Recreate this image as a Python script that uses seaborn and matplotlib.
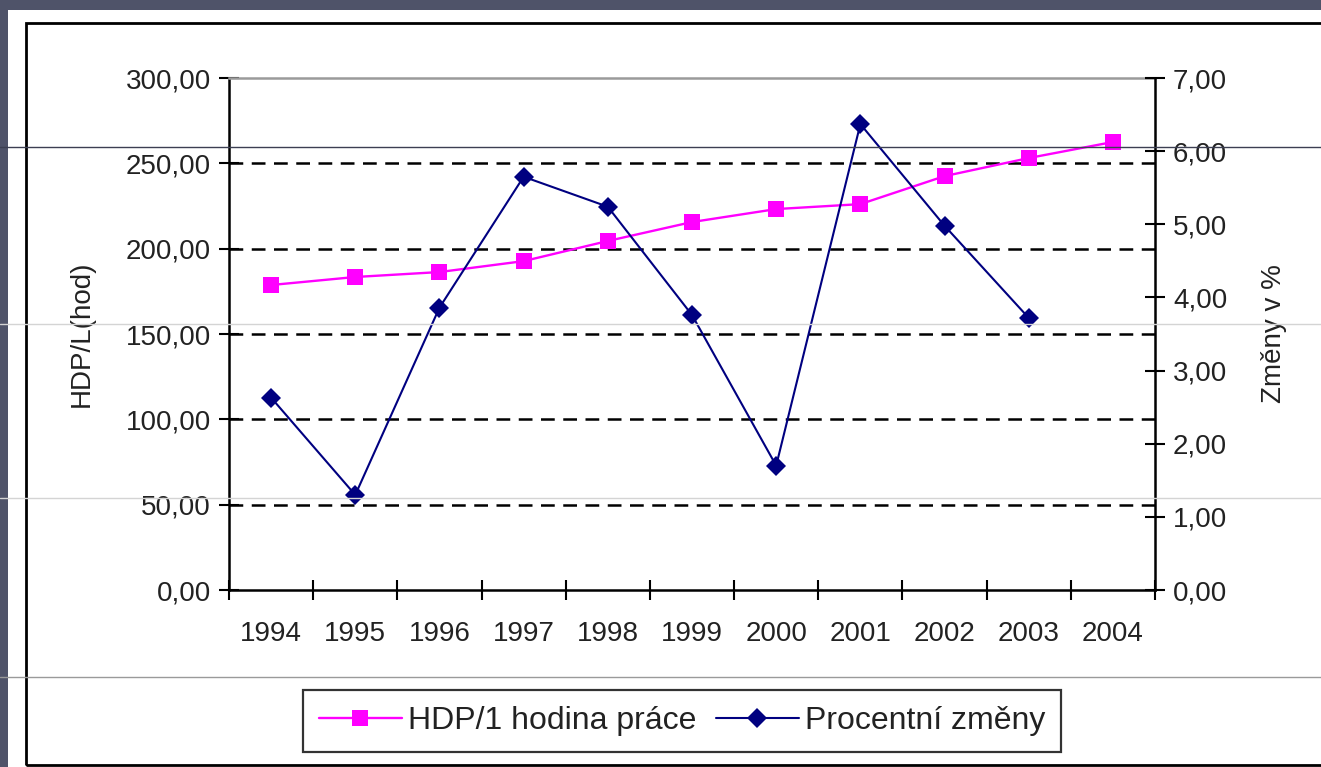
"""HDP na hodinu práce a procentní změny, 1994-2004"""
import pandas as pd
import matplotlib.pyplot as plt
import seaborn as sns
from matplotlib.patches import Rectangle
from matplotlib.lines import Line2D

roky = [1994, 1995, 1996, 1997, 1998, 1999, 2000, 2001, 2002, 2003, 2004]
hdp_hodina = [178.7, 183.4, 186.3, 192.7, 204.5, 215.6, 223.2, 226.1, 242.5, 253.1, 262.5]
roky_zmeny = [1994, 1995, 1996, 1997, 1998, 1999, 2000, 2001, 2002, 2003]
procentni_zmeny = [2.63, 1.30, 3.86, 5.65, 5.24, 3.76, 1.70, 6.37, 4.98, 3.72]
levy_ticks = [0, 50, 100, 150, 200, 250, 300]
pravy_ticks = [0, 1, 2, 3, 4, 5, 6, 7]

W, H = 1321, 767
sns.set_style("white")
plt.rcParams['font.family'] = ['Liberation Sans', 'DejaVu Sans']
text_color = '#222222'
fs = 20

fig = plt.figure(figsize=(W / 100, H / 100), dpi=100, facecolor='#4f5369')
# white slide panel + black chart frame
fig.patches.append(Rectangle((8 / W, 0), 1, 1 - 10 / H, transform=fig.transFigure,
                             facecolor='white', edgecolor='none', zorder=0))
fig.patches.append(Rectangle((26 / W, 1 - 765 / H), 1, (765 - 23) / H, transform=fig.transFigure,
                             facecolor='none', edgecolor='black', lw=2, zorder=1))

ax = fig.add_axes([229 / W, 1 - 590 / H, (1155 - 229) / W, (590 - 78) / H])
ax.set_facecolor('none')
ax.set_zorder(3)
ax2 = ax.twinx()
ax2.set_zorder(4)
ax2.set_facecolor('none')

df1 = pd.DataFrame({'rok': roky, 'hdp': hdp_hodina})
df2 = pd.DataFrame({'rok': roky_zmeny, 'zmena': procentni_zmeny})

sns.lineplot(data=df1, x='rok', y='hdp', ax=ax, color='#ff00ff', lw=1.7,
             marker='s', markersize=11, markeredgewidth=0, zorder=4)
sns.lineplot(data=df2, x='rok', y='zmena', ax=ax2, color='#000080', lw=1.5,
             marker='D', markersize=10, markeredgewidth=0, zorder=4)

ax.set_xlim(1993.5, 2004.5)
ax.set_ylim(0, 300)
ax2.set_ylim(0, 7)

# dashed gridlines at left-axis values
for v in levy_ticks[1:-1]:
    ax.axhline(v, color='black', lw=1.8, ls=(0, (5.5, 3.4)), zorder=2)

ax.set_yticks(levy_ticks)
ax.set_yticklabels([f'{v:.2f}'.replace('.', ',') for v in levy_ticks])
ax2.set_yticks(pravy_ticks)
ax2.set_yticklabels([f'{v:.2f}'.replace('.', ',') for v in pravy_ticks])
ax.set_xticks(roky)
ax.set_xticklabels([str(r) for r in roky])
ax.set_xticks([r - 0.5 for r in roky] + [roky[-1] + 0.5], minor=True)

ax.tick_params(axis='x', which='major', bottom=True, length=0, pad=22,
               labelsize=fs, labelcolor=text_color)
ax.tick_params(axis='x', which='minor', bottom=True, direction='inout',
               length=14, width=1.5, color='black')
ax.tick_params(axis='y', left=True, direction='inout', length=14, width=1.5, color='black',
               pad=6, labelsize=fs, labelcolor=text_color)
ax2.tick_params(axis='y', right=True, direction='inout', length=14, width=1.5, color='black',
                pad=6, labelsize=fs, labelcolor=text_color)

for a in (ax, ax2):
    for s in a.spines.values():
        s.set_visible(False)
ax.spines['left'].set_visible(True)
ax.spines['bottom'].set_visible(True)
ax2.spines['right'].set_visible(True)
for s in (ax.spines['left'], ax.spines['bottom'], ax2.spines['right']):
    s.set_color('black')
    s.set_linewidth(1.8)
ax.spines['top'].set_visible(True)
ax.spines['top'].set_color('#9a9a9a')
ax.spines['top'].set_linewidth(1.8)

ax.set_xlabel('')
ax.set_ylabel('HDP/L(hod)', fontsize=fs, color=text_color, labelpad=22)
ax2.set_ylabel('Změny v %', fontsize=fs, color=text_color, labelpad=24)

if ax.get_legend():
    ax.get_legend().remove()
handles = [Line2D([], [], color='#ff00ff', lw=1.7, marker='s', markersize=11, markeredgewidth=0),
           Line2D([], [], color='#000080', lw=1.5, marker='D', markersize=10, markeredgewidth=0)]
leg = fig.legend(handles, ['HDP/1 hodina práce', 'Procentní změny'],
                 loc='center', bbox_to_anchor=(682 / W, 1 - 721 / H), ncol=2,
                 fontsize=23, frameon=True, fancybox=False, edgecolor='black',
                 handlelength=2.6, handletextpad=0.2, columnspacing=0.6, borderpad=0.5)
leg.get_frame().set_linewidth(1.6)
leg.set_zorder(5)
for t in leg.get_texts():
    t.set_color(text_color)

# faint horizontal lines of the slide template
for yy, c in [(147, '#3c3f52'), (324, '#d4d4d4'), (498, '#d4d4d4'), (677, '#9a9a9a')]:
    fig.add_artist(Line2D([0, 1], [1 - yy / H] * 2, transform=fig.transFigure,
                          color=c, lw=1, zorder=10))

fig.savefig('out.png', dpi=100, facecolor=fig.get_facecolor())
plt.close()
